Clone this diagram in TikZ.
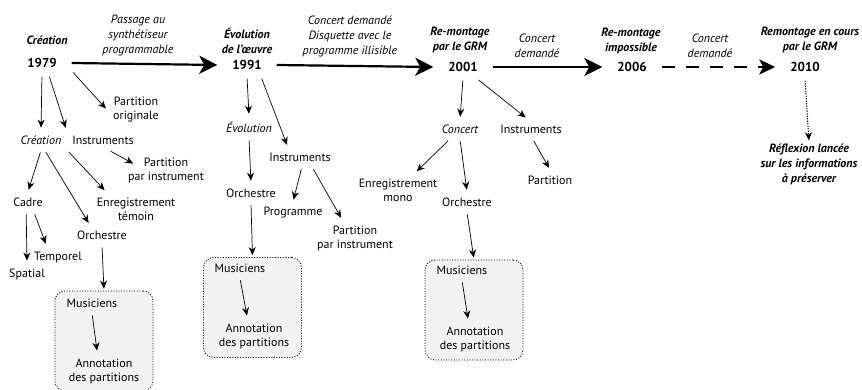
\documentclass[tikz,border=0pt]{standalone}
\usepackage{fontspec}
\setmainfont{PT Sans}
\usetikzlibrary{arrows.meta,calc}

\tikzset{
  annee/.style={font=\bfseries\fontsize{13}{15}\selectfont, inner sep=1pt, outer xsep=14pt, outer ysep=6pt},
  etape/.style={font=\bfseries\itshape\fontsize{12}{15}\selectfont, align=center, inner sep=1pt},
  evt/.style={font=\itshape\fontsize{12}{15}\selectfont, align=center, inner sep=1pt},
  elem/.style={align=center, inner sep=1pt, outer sep=5pt},
  elemit/.style={elem, font=\itshape},
  groupe/.style={draw, line width=0.8pt, dash pattern=on 1pt off 1.6pt, rounded corners=10pt, fill=gray!10, minimum width=98pt, minimum height=100pt},
  fleche/.style={-{Stealth[length=8pt,width=7pt,inset=2.5pt]}, line width=0.7pt, shorten <=2pt, shorten >=2pt},
  ligne/.style={-{Stealth[length=18pt,width=18pt,inset=5pt]}, line width=2.2pt}
}

\begin{document}
\fontsize{12}{14}\selectfont
\begin{tikzpicture}[x=1pt,y=-1pt]
  \useasboundingbox (0,0) rectangle (862,390);

  % frise
  \node[etape] (hCrea) at (47,40) {Création};
  \node[annee] (a1979) at (42,63) {1979};
  \node[etape] (hEvo) at (247,41) {Évolution\\de l'œuvre};
  \node[annee] (a1991) at (247,65) {1991};
  \node[etape] (hRemont) at (460,40) {Re-montage\\par le GRM};
  \node[annee] (a2001) at (463,67) {2001};
  \node[etape] (hImposs) at (631,41) {Re-montage\\impossible};
  \node[annee] (a2006) at (632,67) {2006};
  \node[etape] (hEnCours) at (810,40) {Remontage en cours\\par le GRM};
  \node[annee] (a2010) at (805,67) {2010};
  \node[etape] (reflex) at (809,164) {Réflexion lancée\\sur les informations\\à préserver};

  \node[evt] (ePassage) at (138,36) {Passage au\\synthétiseur\\programmable};
  \node[evt] (eDisq) at (350,36) {Concert demandé\\Disquette avec le\\programme illisible};
  \node[evt] (eConcA) at (537,46) {Concert\\demandé};
  \node[evt] (eConcB) at (710,46) {Concert\\demandé};

  \draw[ligne] (a1979.east) -- (a1991.west);
  \draw[ligne] (a1991.east) -- (a2001.west);
  \draw[ligne] (a2001.east) -- (a2006.west);
  \draw[-{Stealth[length=16pt,width=15pt,inset=4pt]}, line width=2pt, dash pattern=on 13pt off 11pt] (a2006.east) -- (a2010.west);
  \draw[fleche, line width=1pt, dash pattern=on 1.2pt off 1.3pt] (a2010.south) -- (reflex.north);

  % 1979
  \node[groupe] (grpA) at (104,341) {};
  \node[elemit] (creaA) at (41,140) {Création};
  \node[elem] (instrA) at (103,140) {Instruments};
  \node[elem] (partOrig) at (136,110) {Partition\\originale};
  \node[elem] (partInstA) at (166,170) {Partition\\par instrument};
  \node[elem] (cadre) at (28,202) {Cadre};
  \node[elem] (enregA) at (136,209) {Enregistrement\\témoin};
  \node[elem] (orchA) at (102,235) {Orchestre};
  \node[elem] (temporel) at (58,257) {Temporel};
  \node[elem] (spatial) at (27,274) {Spatial};
  \node[elem] (musiA) at (92,303) {Musiciens};
  \node[elem] (annotA) at (104,371) {Annotation\\des partitions};

  \draw[fleche] (a1979.south) -- (creaA.north);
  \draw[fleche] (a1979.-60) -- (instrA.north west);
  \draw[fleche] (a1979.-15) -- (partOrig.west);
  \draw[fleche] (instrA.-60) -- ($(partInstA.north)+(-31,13)$);
  \draw[fleche] (creaA.south) -- (cadre.north);
  \draw[fleche] (creaA.-70) -- (orchA.140);
  \draw[fleche] (creaA.south east) -- (enregA.150);
  \draw[fleche] (cadre.-100) -- (spatial.north);
  \draw[fleche] (cadre.-60) -- (temporel.135);
  \draw[fleche] (orchA.south) -- (grpA.north);
  \draw[fleche] (musiA.south) -- (annotA.110);

  % 1991
  \node[groupe] (grpB) at (252.5,307.5) {};
  \node[elemit] (evoB) at (249,127) {Évolution};
  \node[elem] (instrB) at (300,157) {Instruments};
  \node[elem] (orchB) at (251,193) {Orchestre};
  \node[elem] (progr) at (293,213) {Programme};
  \node[elem] (partInstB) at (355,238) {Partition\\par instrument};
  \node[elem] (musiB) at (240,268) {Musiciens};
  \node[elem] (annotB) at (254,336) {Annotation\\des partitions};

  \draw[fleche] (a1991.south) -- (evoB.north);
  \draw[fleche] (a1991.-40) -- (instrB.140);
  \draw[fleche] (evoB.south) -- (orchB.north);
  \draw[fleche] (instrB.-80) -- (progr.north);
  \draw[fleche] (instrB.-40) -- (partInstB.125);
  \draw[fleche] (orchB.south) -- (grpB.north);
  \draw[fleche] (musiB.south) -- (annotB.110);

  % 2001
  \node[groupe] (grpC) at (474,310) {};
  \node[elemit] (conc) at (460,129) {Concert};
  \node[elem] (instrC) at (531,129) {Instruments};
  \node[elem] (enrMono) at (398,190) {Enregistrement\\mono};
  \node[elem] (orchC) at (467,202) {Orchestre};
  \node[elem] (partC) at (550,180) {Partition};
  \node[elem] (musiC) at (462,270) {Musiciens};
  \node[elem] (annotC) at (475,339) {Annotation\\des partitions};

  \draw[fleche] (a2001.south) -- (conc.north);
  \draw[fleche] (a2001.-40) -- (instrC.110);
  \draw[fleche] (conc.-135) -- (enrMono.45);
  \draw[fleche] (conc.south) -- (orchC.north);
  \draw[fleche] (instrC.-80) -- (partC.north);
  \draw[fleche] (orchC.south) -- (grpC.north);
  \draw[fleche] (musiC.south) -- (annotC.110);
\end{tikzpicture}
\end{document}
